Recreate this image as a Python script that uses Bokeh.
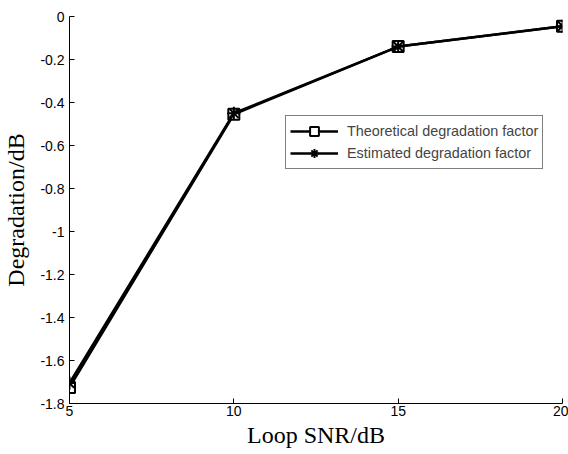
from bokeh.plotting import figure
from bokeh.embed import file_html
from bokeh.resources import INLINE
from bokeh.models import FixedTicker

snr = [5, 10, 15, 20]
theoretical = [-1.725, -0.455, -0.14, -0.045]
estimated = [-1.705, -0.45, -0.14, -0.045]
x_ticks = [5, 10, 15, 20]
y_ticks = [-1.8, -1.6, -1.4, -1.2, -1.0, -0.8, -0.6, -0.4, -0.2, 0.0]
y_tick_labels = {-1.8: "-1.8", -1.6: "-1.6", -1.4: "-1.4", -1.2: "-1.2", -1.0: "-1",
                 -0.8: "-0.8", -0.6: "-0.6", -0.4: "-0.4", -0.2: "-0.2", 0.0: "0"}

p = figure(width=568, height=454, x_range=(5, 20), y_range=(-1.8, 0),
           output_backend="svg", toolbar_location=None,
           min_border_left=69, min_border_right=6, min_border_top=16, min_border_bottom=51)
p.outline_line_color = None
p.xgrid.grid_line_color = None
p.ygrid.grid_line_color = None
p.background_fill_color = "white"

p.line(snr, theoretical, line_color="black", line_width=2.5, legend_label="Theoretical degradation factor")
p.scatter(snr, theoretical, marker="square", size=11, fill_color="white", line_color="black",
          line_width=2, legend_label="Theoretical degradation factor")
p.line(snr, estimated, line_color="black", line_width=2.5, legend_label="Estimated degradation factor")
p.scatter(snr, estimated, marker="asterisk", size=13, line_color="black",
          line_width=2, legend_label="Estimated degradation factor")

for ax in (p.xaxis[0], p.yaxis[0]):
    ax.axis_line_color = "black"
    ax.axis_line_width = 1
    ax.major_tick_in = 5
    ax.major_tick_out = 0
    ax.minor_tick_in = 0
    ax.minor_tick_out = 0
    ax.major_tick_line_color = "black"
    ax.major_label_text_font = "Liberation Sans"
    ax.major_label_text_font_size = "14px"
    ax.major_label_text_color = "black"
    ax.axis_label_text_font = "Liberation Serif"
    ax.axis_label_text_font_size = "24px"
    ax.axis_label_text_font_style = "normal"
    ax.axis_label_text_color = "black"

p.xaxis.ticker = FixedTicker(ticks=x_ticks)
p.yaxis.ticker = FixedTicker(ticks=y_ticks)
p.yaxis.major_label_overrides = y_tick_labels
p.xaxis.axis_label = "Loop SNR/dB"
p.yaxis.axis_label = "Degradation/dB"
p.xaxis.major_label_standoff = 2
p.yaxis.major_label_standoff = 5
p.xaxis.axis_label_standoff = 3
p.yaxis.axis_label_standoff = 8

lg = p.legend[0]
lg.location = (216, 234)
lg.border_line_color = "black"
lg.border_line_width = 1
lg.background_fill_alpha = 1
lg.background_fill_color = "white"
lg.label_text_font = "Liberation Sans"
lg.label_text_font_size = "14.4px"
lg.glyph_width = 48
lg.glyph_height = 22
lg.label_standoff = 9
lg.padding = 4
lg.spacing = -2
lg.margin = 0

open("out.html", "w").write(file_html(p, INLINE))
